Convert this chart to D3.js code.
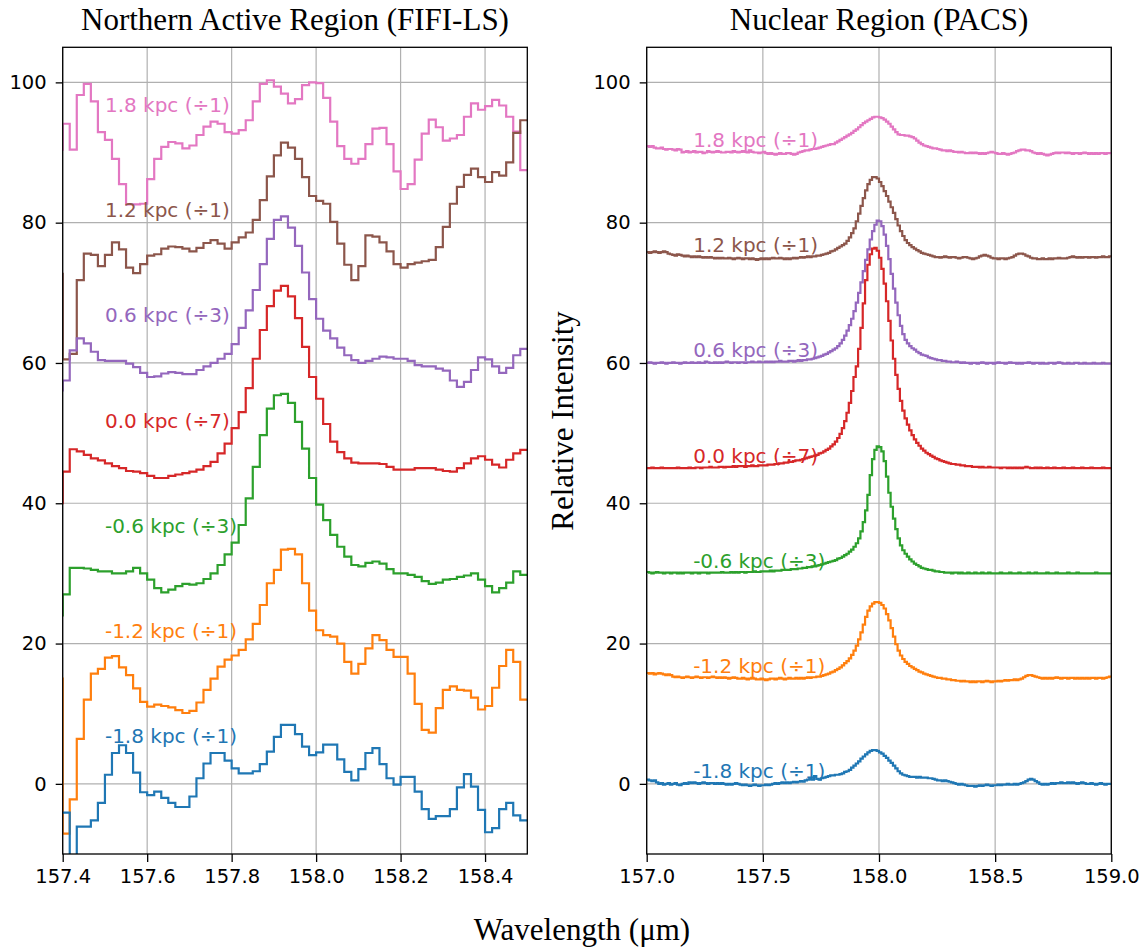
<!DOCTYPE html>
<html>
<head>
<meta charset="utf-8">
<script src="https://cdn.jsdelivr.net/npm/d3@7"></script>
<style>
  html, body { margin: 0; padding: 0; background: #fff; }
  svg { display: block; }
</style>
</head>
<body>
<svg id="chart" width="1144" height="947"></svg>
<script>
// ---------------- DATA ----------------
const seriesNames = ["1.8 kpc (÷1)", "1.2 kpc (÷1)", "0.6 kpc (÷3)", "0.0 kpc (÷7)", "-0.6 kpc (÷3)", "-1.2 kpc (÷1)", "-1.8 kpc (÷1)"];
const seriesOffsets = [90, 75, 60, 45, 30, 15, 0];
const seriesColors = ["#e377c2", "#8c564b", "#9467bd", "#d62728", "#2ca02c", "#ff7f0e", "#1f77b4"];

const yTicks = [0, 20, 40, 60, 80, 100];
const leftXTicks = [157.4, 157.6, 157.8, 158.0, 158.2, 158.4];
const rightXTicks = [157.0, 157.5, 158.0, 158.5, 159.0];

const leftTitle = "Northern Active Region (FIFI-LS)";
const rightTitle = "Nuclear Region (PACS)";
const xLabel = "Wavelength (μm)";
const yLabel = "Relative Intensity";

// FIFI-LS wavelength grid (bin edges): first bin starts one bin before 157.4
const fifiBinWidth = 1.1 / 66;
const fifiStart = 157.4 - fifiBinWidth;
// PACS wavelength grid
const pacsBinWidth = 0.01;
const pacsStart = 157.0;

// FIFI-LS spectra (67 bins each)
const fifi_p18 = [90.4, 94.1, 90.4, 98.2, 99.8, 97.3, 92.9, 91.8, 89.1, 85.5, 82.6, 82.6, 82.7, 86.2, 89.1, 90.8, 91.5, 91.3, 90.6, 91.0, 92.5, 93.7, 94.4, 94.1, 92.9, 92.7, 93.2, 94.6, 97.3, 99.8, 100.3, 99.4, 98.4, 97.0, 97.6, 99.6, 100.0, 99.9, 97.8, 94.4, 90.9, 89.1, 88.4, 89.1, 91.2, 93.4, 93.5, 91.2, 87.3, 84.8, 85.5, 89.0, 92.7, 94.7, 93.6, 91.7, 92.0, 92.5, 95.1, 97.0, 96.1, 96.6, 97.5, 96.7, 95.1, 93.0, 87.5];
const fifi_p12 = [72.7, 60.5, 61.3, 71.8, 75.6, 75.4, 73.8, 75.4, 77.2, 76.2, 73.6, 72.8, 74.1, 75.3, 75.5, 76.3, 76.6, 76.5, 76.3, 75.9, 76.4, 77.1, 77.5, 77.0, 76.3, 77.2, 77.9, 78.6, 80.4, 83.2, 86.6, 89.6, 91.4, 90.7, 89.1, 86.5, 83.8, 83.1, 82.7, 80.1, 77.0, 74.0, 71.8, 73.8, 78.2, 78.0, 77.2, 75.9, 74.1, 73.6, 74.1, 74.3, 74.5, 74.7, 76.5, 79.4, 82.7, 85.1, 86.8, 87.7, 86.5, 85.8, 87.2, 86.7, 88.6, 92.8, 94.6];
const fifi_p06 = [56.1, 57.5, 61.8, 63.5, 62.8, 61.6, 60.4, 60.3, 60.3, 60.3, 59.9, 59.4, 58.6, 58.0, 58.1, 58.5, 58.7, 58.6, 58.4, 58.4, 59.0, 59.5, 60.0, 60.6, 61.3, 62.7, 65.0, 67.5, 70.4, 74.1, 77.7, 80.4, 80.9, 79.3, 76.7, 72.9, 69.1, 66.3, 64.6, 63.5, 62.2, 61.1, 60.4, 60.0, 60.3, 60.6, 60.9, 60.8, 60.6, 60.6, 60.3, 59.7, 59.5, 59.5, 59.2, 58.9, 57.5, 56.6, 57.3, 59.0, 60.8, 60.5, 59.5, 58.6, 59.3, 61.1, 62.0];
const fifi_00 = [40.0, 44.5, 47.7, 47.4, 46.9, 46.4, 46.1, 45.7, 45.3, 45.0, 44.6, 44.5, 44.3, 43.9, 43.6, 43.6, 43.9, 44.1, 44.3, 44.5, 44.8, 45.3, 45.9, 47.1, 48.5, 50.7, 53.0, 56.4, 60.6, 64.7, 68.1, 70.3, 71.0, 69.5, 66.4, 62.3, 58.0, 54.9, 51.3, 48.8, 47.3, 46.4, 45.8, 45.7, 45.7, 45.7, 45.6, 45.2, 44.8, 44.8, 44.8, 45.0, 45.0, 45.0, 44.8, 44.6, 44.5, 45.0, 45.7, 46.4, 46.7, 46.2, 45.5, 45.1, 46.2, 47.1, 47.6];
const fifi_m06 = [24.0, 27.0, 30.8, 30.8, 30.7, 30.5, 30.3, 30.3, 30.0, 30.0, 30.3, 30.8, 30.0, 29.1, 27.9, 27.3, 27.7, 28.2, 28.5, 28.4, 28.6, 29.2, 30.0, 31.2, 32.7, 34.4, 36.9, 40.7, 45.2, 49.7, 53.5, 55.4, 55.6, 54.3, 51.6, 47.8, 43.6, 39.8, 37.6, 35.5, 33.8, 32.4, 31.2, 31.0, 31.5, 31.7, 31.4, 30.6, 30.0, 30.0, 29.8, 29.5, 28.9, 28.5, 28.7, 29.1, 29.2, 29.5, 29.7, 30.0, 29.1, 28.2, 27.3, 27.9, 28.7, 30.3, 29.8];
const fifi_m12 = [15.0, -7.1, -2.2, 6.4, 12.0, 15.7, 16.4, 18.0, 18.2, 16.6, 15.5, 13.6, 11.7, 11.0, 11.3, 11.1, 10.9, 10.5, 10.1, 10.4, 11.6, 13.4, 15.0, 16.7, 17.7, 18.3, 19.1, 20.6, 22.8, 25.5, 28.6, 30.5, 33.4, 33.5, 32.7, 28.6, 24.7, 21.9, 21.2, 21.0, 20.0, 17.4, 15.7, 17.1, 19.3, 21.2, 20.5, 19.1, 18.1, 18.1, 15.7, 11.4, 7.7, 7.3, 10.8, 13.4, 13.9, 13.4, 13.3, 12.3, 10.6, 11.1, 13.7, 16.8, 19.1, 17.4, 12.0];
const fifi_m18 = [-4.1, -4.1, -12.0, -6.1, -6.1, -5.2, -2.7, 1.3, 4.4, 5.5, 4.4, 1.6, -1.2, -1.6, -1.1, -2.0, -2.7, -3.3, -3.3, -1.8, 0.8, 2.9, 4.4, 4.4, 3.3, 2.2, 1.5, 1.5, 1.8, 2.8, 4.6, 6.7, 8.4, 8.4, 7.1, 5.3, 4.1, 4.5, 5.6, 5.6, 3.5, 1.7, 0.5, 2.1, 4.4, 5.1, 2.8, 0.8, -0.1, 1.0, 1.0, -1.1, -3.6, -5.0, -4.6, -4.6, -3.6, -0.5, 1.4, -0.4, -3.7, -6.9, -6.3, -3.6, -2.7, -4.5, -5.2];

// PACS spectra (200 bins each, 157.0 - 159.0)
const pacs_p18 = [
 90.9, 90.8, 90.9, 90.7, 90.6, 90.6, 90.7, 90.5, 90.4, 90.5,
 90.5, 90.4, 90.3, 90.5, 90.4, 90.0, 90.1, 90.2, 90.0, 90.1,
 90.2, 90.0, 90.1, 90.1, 89.9, 90.0, 90.2, 90.1, 90.0, 90.1,
 90.2, 90.1, 90.0, 90.0, 90.1, 90.1, 90.0, 90.2, 90.1, 90.0,
 90.1, 90.2, 90.1, 90.0, 90.3, 90.1, 90.0, 90.0, 89.9, 90.0,
 90.1, 89.9, 89.8, 89.9, 89.8, 89.7, 89.8, 89.9, 89.8, 89.8,
 89.9, 89.9, 89.8, 89.7, 89.8, 90.0, 90.1, 90.2, 90.3, 90.3,
 90.4, 90.5, 90.5, 90.6, 90.7, 90.8, 90.9, 91.0, 91.1, 91.2,
 91.2, 91.4, 91.6, 91.8, 92.0, 92.2, 92.4, 92.6, 92.8, 93.1,
 93.3, 93.6, 93.9, 94.2, 94.4, 94.6, 94.8, 95.0, 95.1, 95.1,
 95.0, 94.9, 94.7, 94.4, 94.1, 93.7, 93.3, 92.9, 92.6, 92.5,
 92.5, 92.4, 92.4, 92.3, 92.2, 92.0, 91.7, 91.4, 91.2, 91.0,
 90.9, 90.8, 90.7, 90.6, 90.6, 90.5, 90.4, 90.3, 90.3, 90.2,
 90.3, 90.2, 90.1, 90.1, 90.0, 90.1, 90.0, 89.9, 89.9, 90.0,
 89.9, 90.0, 89.9, 89.8, 89.9, 89.8, 89.9, 90.0, 90.1, 90.0,
 89.9, 89.8, 89.8, 89.9, 89.8, 89.7, 89.8, 89.9, 90.0, 90.2,
 90.3, 90.4, 90.4, 90.3, 90.3, 90.2, 90.0, 89.9, 89.8, 89.9,
 89.8, 89.7, 89.6, 89.7, 89.8, 89.9, 90.0, 89.9, 90.0, 90.0,
 89.9, 90.0, 89.9, 89.8, 89.9, 89.9, 89.8, 89.9, 90.0, 89.9,
 89.8, 89.9, 89.8, 89.9, 89.8, 89.9, 89.9, 89.8, 89.9, 89.9];
const pacs_p12 = [
 75.8, 75.7, 75.8, 75.9, 75.8, 75.7, 75.8, 75.9, 75.8, 75.6,
 75.5, 75.4, 75.3, 75.5, 75.4, 75.3, 75.2, 75.3, 75.2, 75.1,
 75.2, 75.1, 75.2, 75.1, 75.0, 75.1, 75.0, 75.1, 75.0, 74.9,
 75.0, 74.9, 75.0, 74.9, 74.9, 75.0, 74.9, 74.8, 74.9, 75.0,
 74.9, 74.8, 74.9, 74.9, 74.8, 74.9, 74.8, 74.7, 74.8, 74.9,
 74.8, 74.9, 74.8, 74.9, 75.0, 74.9, 74.9, 75.0, 74.9, 74.8,
 74.9, 74.8, 74.9, 75.0, 74.9, 75.0, 75.1, 75.0, 75.1, 75.2,
 75.1, 75.2, 75.2, 75.3, 75.3, 75.4, 75.5, 75.6, 75.7, 75.9,
 76.0, 76.2, 76.4, 76.6, 76.8, 77.0, 77.4, 77.9, 78.5, 79.2,
 80.2, 81.3, 82.4, 83.5, 84.6, 85.5, 86.1, 86.5, 86.5, 86.3,
 85.8, 85.2, 84.5, 83.8, 83.0, 82.2, 81.4, 80.5, 79.6, 78.8,
 78.1, 77.5, 77.1, 76.8, 76.5, 76.3, 76.1, 75.9, 75.7, 75.6,
 75.5, 75.4, 75.3, 75.2, 75.1, 75.1, 75.0, 75.1, 75.2, 75.1,
 75.0, 75.1, 75.1, 75.0, 74.9, 75.0, 75.1, 75.1, 75.0, 74.9,
 74.8, 74.9, 75.0, 75.2, 75.3, 75.4, 75.3, 75.2, 75.0, 74.9,
 74.9, 74.8, 74.9, 74.9, 74.8, 74.9, 75.0, 75.1, 75.3, 75.5,
 75.6, 75.6, 75.5, 75.3, 75.2, 75.0, 74.9, 74.9, 74.8, 74.8,
 74.9, 74.8, 74.8, 74.9, 74.8, 74.9, 74.9, 75.0, 74.9, 74.9,
 74.9, 75.0, 75.1, 75.2, 75.1, 75.0, 75.1, 75.0, 75.1, 75.1,
 75.0, 75.1, 75.1, 75.0, 75.1, 75.1, 75.2, 75.1, 75.1, 75.2];
const pacs_p06 = [
 60.0, 60.1, 60.0, 59.9, 60.0, 60.0, 60.1, 60.0, 59.9, 60.0,
 60.0, 60.1, 60.0, 60.0, 59.9, 60.0, 60.1, 60.0, 60.0, 60.1,
 60.0, 60.0, 60.1, 60.0, 60.0, 60.2, 60.1, 60.0, 60.0, 60.1,
 60.0, 60.1, 60.0, 60.1, 60.2, 60.1, 60.0, 60.1, 60.1, 60.0,
 60.1, 60.1, 60.0, 60.1, 60.1, 60.2, 60.1, 60.1, 60.2, 60.1,
 60.1, 60.2, 60.1, 60.2, 60.1, 60.2, 60.2, 60.3, 60.2, 60.2,
 60.2, 60.3, 60.3, 60.2, 60.3, 60.4, 60.3, 60.4, 60.4, 60.5,
 60.5, 60.6, 60.7, 60.8, 60.9, 61.0, 61.2, 61.3, 61.5, 61.7,
 61.9, 62.1, 62.4, 62.8, 63.3, 63.9, 64.6, 65.4, 66.3, 67.4,
 68.6, 70.0, 71.5, 73.1, 74.7, 76.2, 77.6, 78.8, 79.7, 80.3,
 80.2, 79.5, 78.3, 76.7, 74.8, 72.7, 70.6, 68.6, 66.8, 65.3,
 64.1, 63.3, 62.8, 62.4, 62.1, 61.9, 61.6, 61.4, 61.2, 61.1,
 61.0, 60.8, 60.7, 60.6, 60.5, 60.4, 60.4, 60.3, 60.3, 60.2,
 60.2, 60.1, 60.1, 60.2, 60.1, 60.0, 60.1, 60.0, 60.0, 59.9,
 60.0, 60.0, 59.9, 60.0, 60.1, 60.0, 59.9, 60.0, 60.0, 59.9,
 60.0, 60.1, 60.0, 60.0, 59.9, 60.0, 60.1, 60.0, 60.0, 59.9,
 60.0, 59.9, 60.0, 60.0, 60.1, 60.0, 59.9, 60.0, 60.0, 59.9,
 60.0, 59.9, 59.9, 60.0, 60.0, 59.9, 60.0, 60.1, 60.0, 59.9,
 59.9, 60.0, 59.9, 59.9, 60.0, 60.0, 59.9, 59.9, 60.0, 59.9,
 59.9, 59.9, 60.0, 59.9, 59.9, 59.9, 60.0, 59.9, 59.9, 59.9];
const pacs_00 = [
 45.0, 45.0, 45.1, 45.0, 45.0, 45.0, 45.1, 45.0, 45.0, 45.0,
 45.0, 45.0, 45.0, 45.1, 45.0, 45.0, 45.0, 45.0, 45.1, 45.0,
 45.0, 45.1, 45.1, 45.0, 45.1, 45.1, 45.1, 45.2, 45.1, 45.1,
 45.1, 45.2, 45.2, 45.1, 45.2, 45.2, 45.2, 45.3, 45.2, 45.3,
 45.3, 45.3, 45.2, 45.3, 45.3, 45.4, 45.3, 45.3, 45.4, 45.4,
 45.4, 45.4, 45.5, 45.5, 45.5, 45.6, 45.6, 45.7, 45.7, 45.8,
 45.8, 45.9, 45.9, 46.0, 46.1, 46.1, 46.2, 46.3, 46.4, 46.5,
 46.6, 46.7, 46.8, 46.9, 47.1, 47.2, 47.4, 47.6, 47.8, 48.1,
 48.4, 48.8, 49.3, 49.9, 50.7, 51.7, 52.9, 54.3, 56.0, 58.0,
 59.5, 62.0, 65.0, 68.5, 71.8, 74.0, 75.5, 76.3, 76.4, 76.0,
 75.0, 73.4, 71.3, 68.8, 66.0, 63.2, 60.6, 58.3, 56.3, 54.6,
 53.2, 52.1, 51.2, 50.4, 49.7, 49.1, 48.6, 48.2, 47.8, 47.5,
 47.2, 47.0, 46.8, 46.6, 46.4, 46.3, 46.1, 46.0, 45.9, 45.8,
 45.7, 45.6, 45.6, 45.5, 45.5, 45.4, 45.4, 45.3, 45.3, 45.3,
 45.2, 45.2, 45.2, 45.1, 45.2, 45.1, 45.1, 45.2, 45.1, 45.1,
 45.1, 45.1, 45.0, 45.1, 45.1, 45.0, 45.1, 45.0, 45.1, 45.0,
 45.1, 45.0, 45.1, 45.2, 45.1, 45.0, 45.0, 45.1, 45.0, 45.1,
 45.0, 45.0, 45.1, 45.0, 45.0, 45.1, 45.0, 45.0, 45.0, 45.1,
 45.0, 45.0, 45.0, 45.1, 45.0, 45.0, 45.0, 45.1, 45.0, 45.0,
 45.0, 45.1, 45.0, 45.0, 45.0, 45.0, 45.1, 45.0, 45.0, 45.0];
const pacs_m06 = [
 30.2, 30.1, 30.0, 30.1, 30.2, 30.1, 30.1, 30.0, 30.1, 30.1,
 30.0, 30.1, 30.1, 30.0, 30.1, 30.0, 30.1, 30.1, 30.1, 30.0,
 30.1, 30.1, 30.0, 30.1, 30.1, 30.1, 30.0, 30.1, 30.1, 30.1,
 30.1, 30.1, 30.2, 30.1, 30.1, 30.1, 30.2, 30.1, 30.2, 30.1,
 30.2, 30.2, 30.1, 30.2, 30.2, 30.2, 30.3, 30.2, 30.2, 30.3,
 30.3, 30.3, 30.3, 30.4, 30.3, 30.4, 30.4, 30.4, 30.5, 30.5,
 30.5, 30.5, 30.6, 30.6, 30.6, 30.7, 30.7, 30.8, 30.8, 30.9,
 30.9, 31.0, 31.0, 31.1, 31.2, 31.3, 31.4, 31.5, 31.6, 31.7,
 31.8, 31.9, 32.1, 32.2, 32.4, 32.6, 32.8, 33.1, 33.4, 33.8,
 34.3, 35.0, 36.0, 37.3, 39.0, 41.2, 44.0, 46.3, 47.6, 48.1,
 48.0, 47.4, 46.0, 43.8, 41.5, 39.5, 37.8, 36.3, 35.0, 34.0,
 33.3, 32.8, 32.4, 32.0, 31.7, 31.4, 31.2, 31.0, 30.8, 30.7,
 30.6, 30.5, 30.5, 30.4, 30.3, 30.3, 30.2, 30.2, 30.1, 30.1,
 30.1, 30.0, 30.1, 30.1, 30.0, 30.1, 30.0, 30.0, 30.1, 30.0,
 30.0, 30.1, 30.0, 30.0, 30.1, 30.0, 30.0, 30.1, 30.0, 30.0,
 30.0, 30.0, 30.1, 30.0, 30.0, 30.0, 30.1, 30.0, 30.0, 30.0,
 30.1, 30.0, 30.0, 30.0, 30.1, 30.0, 30.0, 30.1, 30.0, 30.0,
 30.0, 30.0, 30.1, 30.0, 30.0, 30.0, 30.1, 30.0, 30.0, 30.0,
 30.0, 30.1, 30.0, 30.0, 30.0, 30.1, 30.0, 30.0, 30.0, 30.0,
 30.0, 30.0, 30.0, 30.1, 30.0, 30.0, 30.0, 30.0, 30.0, 30.0];
const pacs_m12 = [
 15.8, 15.7, 15.8, 15.6, 15.7, 15.8, 15.7, 15.6, 15.5, 15.6,
 15.5, 15.3, 15.2, 15.3, 15.2, 15.1, 15.2, 15.3, 15.2, 15.1,
 15.2, 15.3, 15.2, 15.1, 15.2, 15.2, 15.1, 15.2, 15.3, 15.2,
 15.1, 15.2, 15.1, 15.2, 15.1, 15.0, 15.1, 15.2, 15.1, 15.0,
 15.0, 15.1, 15.0, 14.9, 15.0, 15.1, 15.0, 14.9, 14.9, 15.0,
 14.9, 14.8, 14.9, 15.0, 15.0, 14.9, 15.0, 15.1, 15.0, 14.9,
 15.0, 15.1, 15.0, 15.0, 15.1, 15.0, 15.1, 15.0, 15.1, 15.2,
 15.1, 15.2, 15.2, 15.3, 15.3, 15.4, 15.5, 15.6, 15.7, 15.9,
 16.0, 16.2, 16.4, 16.6, 16.9, 17.2, 17.5, 17.9, 18.4, 19.0,
 19.7, 20.6, 21.6, 22.7, 23.8, 24.7, 25.3, 25.7, 25.9, 25.9,
 25.8, 25.5, 25.0, 24.2, 23.3, 22.2, 21.0, 19.9, 19.0, 18.3,
 17.8, 17.4, 17.1, 16.8, 16.6, 16.4, 16.2, 16.0, 15.9, 15.7,
 15.6, 15.5, 15.4, 15.3, 15.2, 15.1, 15.1, 15.0, 15.0, 14.9,
 14.9, 14.8, 14.8, 14.7, 14.7, 14.6, 14.7, 14.6, 14.6, 14.5,
 14.6, 14.5, 14.6, 14.6, 14.5, 14.6, 14.7, 14.6, 14.5, 14.6,
 14.6, 14.7, 14.6, 14.7, 14.8, 14.7, 14.8, 14.8, 14.9, 14.8,
 14.9, 15.0, 15.2, 15.4, 15.5, 15.5, 15.4, 15.3, 15.2, 15.1,
 15.0, 15.1, 15.0, 15.1, 15.0, 15.1, 15.2, 15.1, 15.0, 15.1,
 15.1, 15.0, 15.1, 15.1, 15.0, 15.1, 15.0, 15.1, 15.0, 15.1,
 15.0, 15.1, 15.1, 15.0, 15.1, 15.1, 15.0, 15.1, 15.2, 15.3];
const pacs_m18 = [
 0.6, 0.5, 0.4, 0.5, 0.2, 0.0, 0.1, -0.1, 0.0, 0.1,
 -0.1, 0.0, 0.1, -0.1, -0.2, 0.0, 0.1, 0.0, 0.2, 0.1,
 0.2, 0.1, 0.0, 0.1, 0.2, 0.1, 0.0, 0.1, 0.1, 0.0,
 0.1, 0.0, 0.1, 0.0, -0.1, 0.0, -0.1, 0.0, 0.1, 0.0,
 -0.1, -0.2, -0.1, -0.2, -0.3, -0.2, -0.1, -0.2, -0.3, -0.2,
 -0.2, -0.1, -0.2, -0.1, 0.0, 0.1, 0.0, 0.1, 0.2, 0.1,
 0.2, 0.1, 0.2, 0.3, 0.2, 0.3, 0.4, 0.3, 0.5, 0.6,
 0.7, 0.6, 1.1, 0.7, 0.6, 0.8, 0.9, 1.0, 1.1, 1.2,
 1.2, 1.3, 1.3, 1.4, 1.5, 1.7, 1.8, 2.0, 2.3, 2.6,
 2.9, 3.2, 3.6, 3.9, 4.2, 4.5, 4.7, 4.8, 4.8, 4.7,
 4.5, 4.3, 4.0, 3.7, 3.3, 3.0, 2.6, 2.2, 1.8, 1.5,
 1.3, 1.2, 1.1, 1.0, 1.0, 1.0, 0.9, 1.0, 0.9, 0.9,
 0.9, 0.8, 0.8, 0.7, 0.6, 0.5, 0.5, 0.4, 0.5, 0.4,
 0.3, 0.2, 0.1, 0.0, -0.1, 0.0, -0.1, -0.2, -0.3, -0.3,
 -0.3, -0.4, -0.3, -0.2, -0.3, -0.2, -0.1, -0.2, -0.3, -0.2,
 -0.2, -0.1, -0.2, -0.1, -0.1, 0.0, -0.1, -0.1, 0.0, -0.1,
 0.0, 0.1, 0.2, 0.4, 0.6, 0.7, 0.6, 0.4, 0.2, 0.0,
 -0.1, 0.0, -0.1, 0.0, 0.1, 0.0, 0.1, 0.1, 0.2, 0.1,
 0.1, 0.2, 0.1, 0.2, 0.1, 0.0, 0.1, 0.2, 0.1, 0.0,
 0.0, 0.1, 0.0, -0.1, 0.0, 0.1, 0.0, -0.1, 0.0, 0.0];

const fifiSeries = [fifi_p18, fifi_p12, fifi_p06, fifi_00, fifi_m06, fifi_m12, fifi_m18];
const pacsSeries = [pacs_p18, pacs_p12, pacs_p06, pacs_00, pacs_m06, pacs_m12, pacs_m18];

// ---------------- LAYOUT ----------------
const svg = d3.select("#chart");
const plotTop = 47.3, plotBottom = 854;
const yDomain = [-10, 105];

const panels = [
  { id: "fifi", x0: 62.7, x1: 527.3, xDomain: [157.4, 158.5], xTicks: leftXTicks,
    series: fifiSeries, start: fifiStart, bin: fifiBinWidth, title: leftTitle,
    labelX: 157.5, labelDy: 5.8 },
  { id: "pacs", x0: 646.7, x1: 1111.3, xDomain: [157.0, 159.0], xTicks: rightXTicks,
    series: pacsSeries, start: pacsStart, bin: pacsBinWidth, title: rightTitle,
    labelX: 157.2, labelDy: 0.8 }
];

const tickFont = "'DejaVu Sans', sans-serif";
const serifFont = "'Liberation Serif', 'Times New Roman', serif";
const tickSize = 19.5;

panels.forEach(p => {
  const x = d3.scaleLinear().domain(p.xDomain).range([p.x0, p.x1]);
  const y = d3.scaleLinear().domain(yDomain).range([plotBottom, plotTop]);
  const g = svg.append("g");

  g.append("clipPath").attr("id", "clip-" + p.id)
    .append("rect").attr("x", p.x0).attr("y", plotTop)
    .attr("width", p.x1 - p.x0).attr("height", plotBottom - plotTop);

  // grid
  const grid = g.append("g").attr("stroke", "#b0b0b0").attr("stroke-width", 1.2);
  p.xTicks.forEach(t => {
    grid.append("line").attr("x1", x(t)).attr("x2", x(t))
      .attr("y1", plotTop).attr("y2", plotBottom);
  });
  yTicks.forEach(t => {
    grid.append("line").attr("x1", p.x0).attr("x2", p.x1)
      .attr("y1", y(t)).attr("y2", y(t));
  });

  // spectra
  const line = d3.line().x(d => x(d[0])).y(d => y(d[1])).curve(d3.curveStepAfter);
  const lines = g.append("g").attr("clip-path", "url(#clip-" + p.id + ")");
  p.series.forEach((vals, si) => {
    const pts = vals.map((v, i) => [p.start + i * p.bin, v]);
    pts.push([p.start + vals.length * p.bin, vals[vals.length - 1]]);
    lines.append("path").datum(pts)
      .attr("d", line)
      .attr("fill", "none")
      .attr("stroke", seriesColors[si])
      .attr("stroke-width", 2.2)
      .attr("stroke-linejoin", "miter");
  });

  // series labels
  seriesNames.forEach((name, si) => {
    g.append("text")
      .attr("x", x(p.labelX))
      .attr("y", y(seriesOffsets[si] + p.labelDy))
      .attr("fill", seriesColors[si])
      .attr("font-family", tickFont)
      .attr("font-size", 20)
      .text(name);
  });

  // axes
  const yAxis = d3.axisLeft(y).tickValues(yTicks).tickSize(7).tickPadding(9)
    .tickFormat(d3.format("d"));
  const ya = g.append("g").attr("transform", `translate(${p.x0},0)`).call(yAxis);
  const xAxis = d3.axisBottom(x).tickValues(p.xTicks).tickSize(8).tickPadding(7)
    .tickFormat(d3.format(".1f"));
  const xa = g.append("g").attr("transform", `translate(0,${plotBottom})`).call(xAxis);
  [ya, xa].forEach(a => {
    a.select(".domain").remove();
    a.selectAll(".tick line").attr("stroke", "#000").attr("stroke-width", 1.3);
    a.selectAll(".tick text").attr("font-family", tickFont).attr("font-size", tickSize)
      .attr("fill", "#000");
  });

  // frame
  g.append("rect").attr("x", p.x0).attr("y", plotTop)
    .attr("width", p.x1 - p.x0).attr("height", plotBottom - plotTop)
    .attr("fill", "none").attr("stroke", "#000").attr("stroke-width", 1.3);

  // title
  svg.append("text")
    .attr("x", (p.x0 + p.x1) / 2).attr("y", 30)
    .attr("text-anchor", "middle")
    .attr("font-family", serifFont).attr("font-size", 31).attr("fill", "#000")
    .text(p.title);
});

// shared axis labels
svg.append("text")
  .attr("x", 582).attr("y", 940)
  .attr("text-anchor", "middle")
  .attr("font-family", serifFont).attr("font-size", 31).attr("fill", "#000")
  .text(xLabel);

svg.append("text")
  .attr("transform", "translate(573,421) rotate(-90)")
  .attr("text-anchor", "middle")
  .attr("font-family", serifFont).attr("font-size", 31).attr("fill", "#000")
  .text(yLabel);
</script>
</body>
</html>
